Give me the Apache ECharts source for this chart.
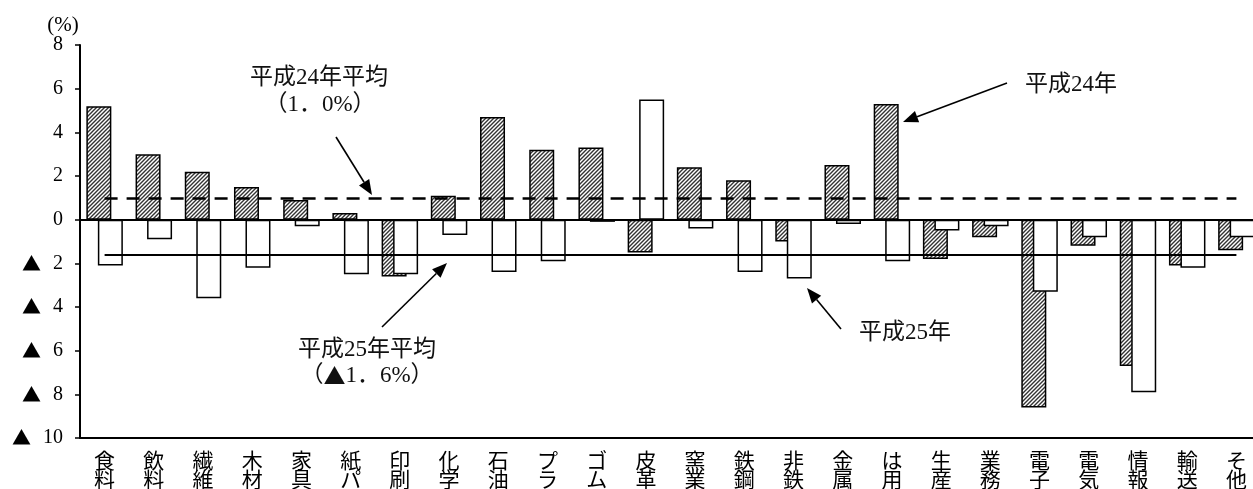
<!DOCTYPE html>
<html><head><meta charset="utf-8">
<script src="https://cdn.jsdelivr.net/npm/echarts@6/dist/echarts.min.js"></script>
<style>html,body{margin:0;padding:0;background:#fff}#c{width:1253px;height:489px}</style>
</head><body><div id="c"></div>
<script>
const categories = ['食料','飲料','繊維','木材','家具','紙パ','印刷','化学','石油','プラ','ゴム','皮革','窯業','鉄鋼','非鉄','金属','は用','生産','業務','電子','電気','情報','輸送','そ他'];
const h24 = [5.2,3.0,2.2,1.5,0.9,0.3,-2.6,1.1,4.7,3.2,3.3,-1.5,2.4,1.8,-1.0,2.5,5.3,-1.8,-0.8,-8.6,-1.2,-6.7,-2.1,-1.4];
const h25 = [-2.1,-0.9,-3.6,-2.2,-0.3,-2.5,-2.5,-0.7,-2.4,-1.9,-0.1,5.5,-0.4,-2.4,-2.7,-0.2,-1.9,-0.5,-0.3,-3.3,-0.8,-7.9,-2.2,-0.8];
const avg24 = 1.0;
const avg25 = -1.6;
const seriesNames = ['平成24年','平成25年'];

const FONT = '"Liberation Serif","Noto Sans CJK JP",serif';

// hatch pattern
const tile = document.createElement('canvas');
tile.width = 4; tile.height = 4;
const g = tile.getContext('2d');
g.fillStyle = '#fff'; g.fillRect(0,0,4,4);
g.strokeStyle = '#333'; g.lineWidth = 1.4;
g.beginPath();
g.moveTo(-1,5); g.lineTo(5,-1);
g.moveTo(-1,1); g.lineTo(1,-1);
g.moveTo(3,5); g.lineTo(5,3);
g.stroke();

function arrow(x1,y1,x2,y2){
  const dx = x2-x1, dy = y2-y1, L = Math.hypot(dx,dy);
  const ux = dx/L, uy = dy/L, px = -uy, py = ux;
  const hl = 15, hw = 6;
  const bx = x2 - ux*hl, by = y2 - uy*hl;
  return [
    {type:'line', shape:{x1:x1,y1:y1,x2:bx,y2:by}, style:{stroke:'#000', lineWidth:1.6}, z:20},
    {type:'polygon', shape:{points:[[x2,y2],[bx+px*hw,by+py*hw],[bx-px*hw,by-py*hw]]}, style:{fill:'#000'}, z:20}
  ];
}
function txt(x,y,s){
  return {type:'text', x:x, y:y, z:20, style:{text:s, font:'23px '+FONT, fill:'#111', align:'center', verticalAlign:'middle',
    rich:{t:{fontFamily:'"Noto Sans CJK JP"', fontSize:22, fill:'#111'}}}};
}

const chart = echarts.init(document.getElementById('c'));
chart.setOption({
  animation:false,
  backgroundColor:'#fff',
  grid:{left:80, top:45, width:1181, height:393, containLabel:false, outerBoundsMode:'none'},
  xAxis:{
    type:'category', data:categories, position:'bottom',
    axisLine:{onZero:false, lineStyle:{color:'#000', width:2}},
    axisTick:{show:false},
    axisLabel:{color:'#000', fontSize:21, fontFamily:FONT, lineHeight:19, margin:15, interval:0,
      formatter:v => v.split('').join('\n')}
  },
  yAxis:{
    type:'value', min:-10, max:8, interval:2,
    splitLine:{show:false},
    axisLine:{show:true, lineStyle:{color:'#000', width:2}},
    axisTick:{show:true, length:5, lineStyle:{color:'#000', width:1.5}},
    axisLabel:{color:'#000', fontSize:20, fontFamily:FONT, margin:17,
      formatter:v => v < 0 ? '{t|▲}' + Math.abs(v) : String(v),
      rich:{t:{fontSize:19, fontFamily:'"Noto Sans CJK JP"', padding:[0,12,0,0], color:'#000'}}}
  },
  series:[
    {name:seriesNames[0], type:'bar', data:h24, barWidth:25, barGap:'-54%',
      itemStyle:{color:{image:tile, repeat:'repeat'}, borderColor:'#000', borderWidth:1.5}},
    {name:seriesNames[1], type:'bar', data:h25, barWidth:25, barGap:'-54%',
      itemStyle:{color:'#fff', borderColor:'#000', borderWidth:1.5}},
    {type:'line', data:[], z:10, silent:true,
      markLine:{silent:true, symbol:'none', label:{show:false},
        data:[
          [{coord:[0,avg24], lineStyle:{type:[13,9], width:2.5, color:'#000'}},{coord:[categories.length-1,avg24]}],
          [{coord:[0,avg25], lineStyle:{type:'solid', width:2, color:'#000'}},{coord:[categories.length-1,avg25]}],
          {yAxis:0, lineStyle:{type:'solid', width:2, color:'#000'}}
        ]}}
  ],
  graphic:[
    {type:'text', x:63, y:25, z:20, style:{text:'(%)', font:'21px '+FONT, fill:'#000', align:'center', verticalAlign:'middle'}},
    txt(319,78,'平成24年平均'),
    txt(320,105,'（1．0%）'),
    txt(367,350,'平成25年平均'),
    txt(367,376,'（{t|▲}1．6%）'),
    txt(1071,85,'平成24年'),
    txt(905,333,'平成25年'),
    ...arrow(336,137,372,195),
    ...arrow(382,327,447,263),
    ...arrow(1007,83,903,122),
    ...arrow(841,329,807,288)
  ]
});
</script>
</body></html>
